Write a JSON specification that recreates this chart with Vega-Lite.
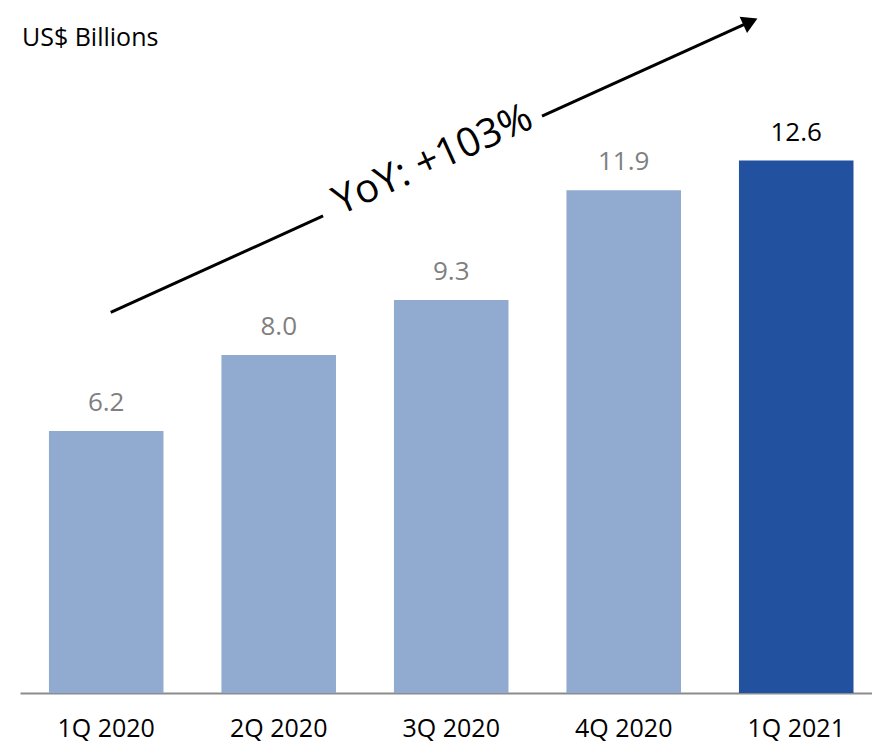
{
  "$schema": "https://vega.github.io/schema/vega-lite/v6.json",
  "width": 852,
  "height": 693,
  "autosize": {"type": "none"},
  "padding": {"left": 20, "top": 0, "right": 0, "bottom": 49},
  "background": "white",
  "config": {"view": {"stroke": null}, "font": "Open Sans"},
  "resolve": {"scale": {"x": "independent"}},
  "layer": [
    {
      "data": {"values": [
        {"quarter": "1Q 2020", "value": 6.2, "label": "6.2"},
        {"quarter": "2Q 2020", "value": 8.0, "label": "8.0"},
        {"quarter": "3Q 2020", "value": 9.3, "label": "9.3"},
        {"quarter": "4Q 2020", "value": 11.9, "label": "11.9"},
        {"quarter": "1Q 2021", "value": 12.6, "label": "12.6"}
      ]},
      "encoding": {
        "x": {
          "field": "quarter", "type": "nominal", "sort": null,
          "scale": {"paddingInner": 0.336, "paddingOuter": 0.1375, "align": 0.61},
          "axis": {
            "title": null, "labelAngle": 0, "ticks": false, "tickSize": 0,
            "domainColor": "#8c8c8c", "domainWidth": 2,
            "labelFontSize": 25, "labelColor": "#000000",
            "labelBaseline": "alphabetic", "labelPadding": 43, "grid": false
          }
        },
        "y": {"field": "value", "type": "quantitative", "scale": {"domain": [0, 16.4], "nice": false}, "axis": null}
      },
      "layer": [
        {
          "mark": {"type": "bar"},
          "encoding": {
            "color": {
              "condition": {"test": "datum.quarter === '1Q 2021'", "value": "#21519F"},
              "value": "#91AACF"
            }
          }
        },
        {
          "mark": {"type": "text", "baseline": "alphabetic", "dy": -20, "fontSize": 26},
          "encoding": {
            "text": {"field": "label"},
            "color": {
              "condition": {"test": "datum.quarter === '1Q 2021'", "value": "#000000"},
              "value": "#7f7f7f"
            }
          }
        }
      ]
    },
    {
      "data": {"values": [
        {"x": 0.526, "y": 9.01, "x2": 1.757, "y2": 11.29},
        {"x": 3.026, "y": 13.65, "x2": 4.234, "y2": 15.886}
      ]},
      "mark": {"type": "rule", "color": "#000000", "strokeWidth": 3},
      "encoding": {
        "x": {"field": "x", "type": "quantitative", "scale": {"domain": [0, 4.939], "nice": false, "zero": false}, "axis": null},
        "y": {"field": "y", "type": "quantitative", "axis": null},
        "x2": {"field": "x2"},
        "y2": {"field": "y2"}
      }
    },
    {
      "data": {"values": [{"x": 4.234, "y": 15.886}]},
      "mark": {"type": "point", "shape": "triangle-up", "filled": true, "color": "#000000", "opacity": 1, "size": 320, "angle": 65.6},
      "encoding": {
        "x": {"field": "x", "type": "quantitative", "scale": {"domain": [0, 4.939], "nice": false, "zero": false}, "axis": null},
        "y": {"field": "y", "type": "quantitative", "axis": null}
      }
    },
    {
      "data": {"values": [{"x": 2.394, "y": 12.61, "note": "YoY: +103%"}]},
      "mark": {"type": "text", "align": "center", "baseline": "middle", "angle": 335.6, "fontSize": 40, "color": "#000000"},
      "encoding": {
        "x": {"field": "x", "type": "quantitative", "scale": {"domain": [0, 4.939], "nice": false, "zero": false}, "axis": null},
        "y": {"field": "y", "type": "quantitative", "axis": null},
        "text": {"field": "note"}
      }
    },
    {
      "data": {"values": [{"x": 0.0116, "y": 15.31, "note": "US$ Billions"}]},
      "mark": {"type": "text", "align": "left", "baseline": "alphabetic", "fontSize": 25, "color": "#000000"},
      "encoding": {
        "x": {"field": "x", "type": "quantitative", "scale": {"domain": [0, 4.939], "nice": false, "zero": false}, "axis": null},
        "y": {"field": "y", "type": "quantitative", "axis": null},
        "text": {"field": "note"}
      }
    }
  ]
}
